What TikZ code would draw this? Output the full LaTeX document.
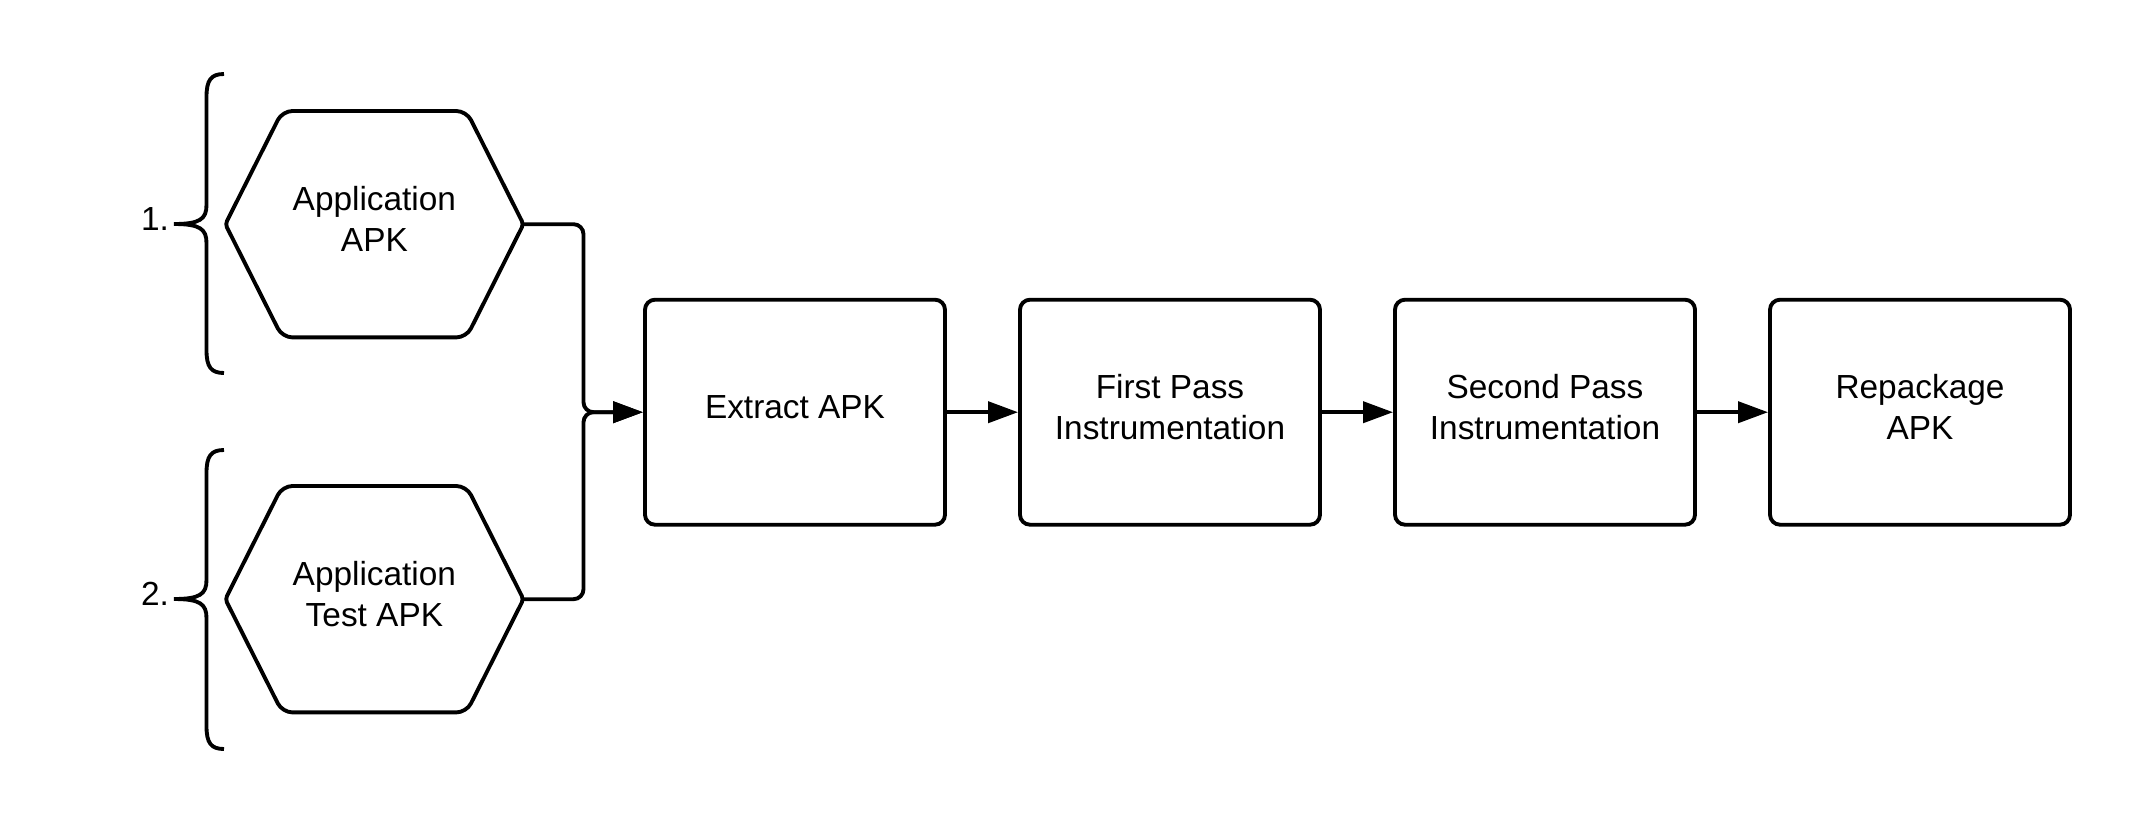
\documentclass[tikz,border=0pt]{standalone}
\usepackage{fontspec}
\setmainfont{Liberation Sans}
\usepackage{tikz}
\usetikzlibrary{arrows.meta}
\tikzstyle{hex}=[shape=rectangle, draw=none, minimum width=2.967cm, minimum height=2.25cm, text depth=0.11cm, align=center, font=\fontsize{9.5}{11.66}\selectfont]
\tikzstyle{step box}=[fill=white, draw=black, line width=1.1pt, shape=rectangle, rounded corners=0.1cm, minimum width=3cm, minimum height=2.25cm, text depth=0.11cm, align=center, font=\fontsize{9.5}{11.66}\selectfont]
\tikzstyle{num text}=[inner sep=0pt, font=\fontsize{9.5}{11.66}\selectfont]
\tikzstyle{hex edge}=[-, draw=black, line width=1.1pt]
\tikzstyle{brace edge}=[-, draw=black, line width=1.1pt]
\tikzstyle{arrow edge}=[-{Triangle[length=0.3cm, width=0.21cm]}, draw=black, line width=1.1pt, rounded corners=0.1cm]
\pgfdeclarelayer{nodelayer}
\pgfdeclarelayer{edgelayer}
\pgfsetlayers{edgelayer,nodelayer,main}
\begin{document}
\begin{tikzpicture}
	\useasboundingbox (0, 0) rectangle (21.45, -8.25);
	\begin{pgfonlayer}{nodelayer}
		\node [style=hex] (0) at (3.744, -2.242) {Application\\APK};
		\node [style=hex] (1) at (3.744, -5.992) {Application\\Test APK};
		\node [style=num text] (2) at (1.55, -2.19) {1.};
		\node [style=num text] (3) at (1.55, -5.94) {2.};
		\node [style=step box] (4) at (7.95, -4.122) {Extract APK};
		\node [style=step box] (5) at (11.70, -4.122) {First Pass\\Instrumentation};
		\node [style=step box] (6) at (15.45, -4.122) {Second Pass\\Instrumentation};
		\node [style=step box] (7) at (19.20, -4.122) {Repackage\\APK};
		\coordinate (8) at (5.835, -4.122);
		\draw [style=hex edge] (0.west) [rounded corners=0.1cm] -- ([xshift=0.57cm]0.north west) -- ([xshift=-0.57cm]0.north east) [rounded corners=0.035cm] -- (0.east) [rounded corners=0.1cm] -- ([xshift=-0.57cm]0.south east) -- ([xshift=0.57cm]0.south west) [rounded corners=0.035cm] -- cycle;
		\draw [style=hex edge] (1.west) [rounded corners=0.1cm] -- ([xshift=0.57cm]1.north west) -- ([xshift=-0.57cm]1.north east) [rounded corners=0.035cm] -- (1.east) [rounded corners=0.1cm] -- ([xshift=-0.57cm]1.south east) -- ([xshift=0.57cm]1.south west) [rounded corners=0.035cm] -- cycle;
	\end{pgfonlayer}
	\begin{pgfonlayer}{edgelayer}
		\draw [style=brace edge] (2.24, -0.74) .. controls (2.11, -0.74) and (2.065, -0.8) .. (2.065, -0.97) -- (2.065, -2.05) .. controls (2.065, -2.19) and (2.0, -2.24) .. (1.74, -2.24) .. controls (2.0, -2.24) and (2.065, -2.29) .. (2.065, -2.43) -- (2.065, -3.5) .. controls (2.065, -3.67) and (2.11, -3.73) .. (2.24, -3.73);
		\draw [style=brace edge] (2.24, -4.5) .. controls (2.11, -4.5) and (2.065, -4.56) .. (2.065, -4.73) -- (2.065, -5.8) .. controls (2.065, -5.94) and (2.0, -5.99) .. (1.74, -5.99) .. controls (2.0, -5.99) and (2.065, -6.04) .. (2.065, -6.18) -- (2.065, -7.26) .. controls (2.065, -7.43) and (2.11, -7.49) .. (2.24, -7.49);
		\draw [style=arrow edge] (0.east) -| (8) -- (4.west);
		\draw [style=arrow edge] (1.east) -| (8) -- (4.west);
		\draw [style=arrow edge] (4) to (5);
		\draw [style=arrow edge] (5) to (6);
		\draw [style=arrow edge] (6) to (7);
	\end{pgfonlayer}
\end{tikzpicture}
\end{document}
